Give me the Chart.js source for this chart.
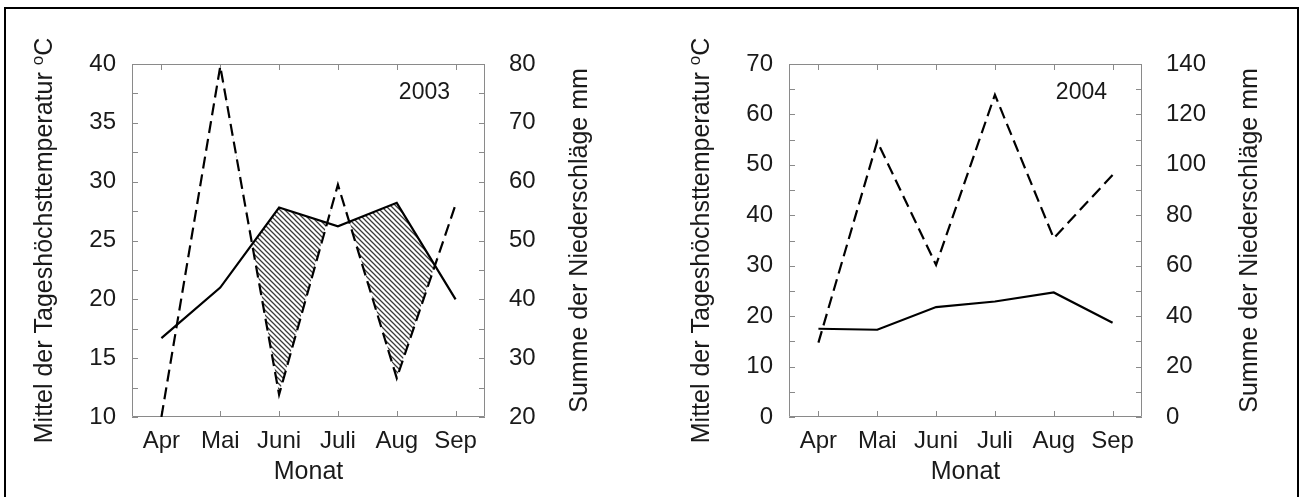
<!DOCTYPE html>
<html>
<head>
<meta charset="utf-8">
<script src="https://cdn.jsdelivr.net/npm/chart.js@4.4.1/dist/chart.umd.min.js"></script>
<style>
  html, body { margin: 0; padding: 0; background: #fff; overflow: hidden; }
  body { width: 1300px; height: 497px; position: relative; }
  #frame { position: absolute; left: 4px; top: 7px; width: 1291px; height: 600px; border: 2px solid #000; }
  .panel { position: absolute; top: 0; width: 650px; height: 497px; }
</style>
</head>
<body>
<div id="frame"></div>
<div class="panel" style="left:0"><canvas id="c2003" width="650" height="497"></canvas></div>
<div class="panel" style="left:650px"><canvas id="c2004" width="650" height="497"></canvas></div>
<script>
// --- Daten ---
const MONTHS = ['Apr', 'Mai', 'Juni', 'Juli', 'Aug', 'Sep'];

// Mittel der Tageshöchsttemperatur (°C)
const TEMP_2003 = [16.7, 21.0, 27.8, 26.2, 28.2, 20.0];
const TEMP_2004 = [17.5, 17.3, 21.8, 22.9, 24.7, 18.7];

// Summe der Niederschläge (mm)
const RAIN_2003 = [20, 79.6, 23.8, 59.5, 26.6, 56.1];
const RAIN_2004 = [29.5, 109.3, 60.3, 127.8, 70.9, 96.0];

// beschriftete Achsenwerte (Zwischenstriche liegen jeweils in der Mitte)
const TEMP_LABELS_2003 = [10, 15, 20, 25, 30, 35, 40];
const RAIN_LABELS_2003 = [20, 30, 40, 50, 60, 70, 80];
const TEMP_LABELS_2004 = [0, 10, 20, 30, 40, 50, 60, 70];
const RAIN_LABELS_2004 = [0, 20, 40, 60, 80, 100, 120, 140];

const TITLE_TEMP = 'Mittel der Tageshöchsttemperatur ';
const TITLE_RAIN = 'Summe der Niederschläge mm';

const FONT_FAMILY = "'Liberation Sans', Arial, Helvetica, sans-serif";
Chart.defaults.font.family = FONT_FAMILY;
Chart.defaults.color = '#1a1a1a';

const TICK_FONT = { size: 24 };

function makeHatch(ctx) {
    const s = 5;
    const c = document.createElement('canvas');
    c.width = s; c.height = s;
    const g = c.getContext('2d');
    g.fillStyle = '#fff';
    g.fillRect(0, 0, s, s);
    g.strokeStyle = '#3a3a3a';
    g.lineWidth = 1.25;
    g.beginPath();
    g.moveTo(-1, -1); g.lineTo(s + 1, s + 1);
    g.moveTo(-2, s - 2); g.lineTo(2, s + 2);
    g.moveTo(s - 2, -2); g.lineTo(s + 2, 2);
    g.stroke();
    return ctx.createPattern(c, 'repeat');
}

function drawVText(ctx, x, cy, parts) {
    // senkrechter Text, von unten nach oben gelesen; x = Grundlinie
    ctx.save();
    ctx.translate(x, cy);
    ctx.rotate(-Math.PI / 2);
    ctx.textBaseline = 'alphabetic';
    ctx.textAlign = 'left';
    ctx.fillStyle = '#1a1a1a';
    let total = 0;
    parts.forEach(p => { ctx.font = p.font; p.w = ctx.measureText(p.text).width; total += p.w; });
    let px = -total / 2;
    parts.forEach(p => { ctx.font = p.font; ctx.fillText(p.text, px, -(p.rise || 0)); px += p.w; });
    ctx.restore();
}

const decor = {
    id: 'decor',
    beforeDatasetsDraw(chart) {
        const { ctx, chartArea: a, scales } = chart;
        const t = 6;
        ctx.save();
        ctx.strokeStyle = '#8a8a8a';
        ctx.lineWidth = 1;
        ctx.beginPath();
        ctx.rect(a.left + 0.5, a.top + 0.5, a.right - a.left - 1, a.bottom - a.top - 1);
        scales.y.ticks.forEach((tk, i) => {
            const py = Math.round(scales.y.getPixelForTick(i)) + 0.5;
            ctx.moveTo(a.left, py); ctx.lineTo(a.left + t, py);
        });
        scales.y1.ticks.forEach((tk, i) => {
            const py = Math.round(scales.y1.getPixelForTick(i)) + 0.5;
            ctx.moveTo(a.right, py); ctx.lineTo(a.right - t, py);
        });
        scales.x.ticks.forEach((tk, i) => {
            const px = Math.round(scales.x.getPixelForTick(i)) + 0.5;
            ctx.moveTo(px, a.bottom); ctx.lineTo(px, a.bottom - t);
            ctx.moveTo(px, a.top); ctx.lineTo(px, a.top + t);
        });
        ctx.stroke();
        ctx.restore();
    },
    afterDraw(chart, args, opts) {
        const { ctx, chartArea: a, scales } = chart;
        const widest = s => {
            ctx.font = '24px ' + FONT_FAMILY;
            return Math.max(...s.ticks.map(tk => ctx.measureText(String(tk.label)).width));
        };
        const cy = (a.top + a.bottom) / 2;
        const xl = a.left - scales.y.options.ticks.padding - widest(scales.y) - 37;
        drawVText(ctx, xl, cy, [
            { text: TITLE_TEMP, font: '25px ' + FONT_FAMILY },
            { text: 'o', font: '17px ' + FONT_FAMILY, rise: 9 },
            { text: 'C', font: '25px ' + FONT_FAMILY }
        ]);
        const xr = a.right + scales.y1.options.ticks.padding + widest(scales.y1) + 51;
        drawVText(ctx, xr, cy, [{ text: TITLE_RAIN, font: '25px ' + FONT_FAMILY }]);

        ctx.save();
        ctx.font = '23px ' + FONT_FAMILY;
        ctx.fillStyle = '#1a1a1a';
        ctx.textAlign = 'right';
        ctx.textBaseline = 'alphabetic';
        ctx.fillText(opts.year, a.right - 35, a.top + 35);
        ctx.restore();
    }
};

function buildChart(id, year, temp, rain, tempLabels, rainLabels, plotLeft, plotRight, hatched) {
    const canvas = document.getElementById(id);
    const ctx = canvas.getContext('2d');
    const datasets = [
        { label: 'Temperatur', data: temp, yAxisID: 'y', borderColor: '#000', borderWidth: 2.2,
          pointRadius: 0, tension: 0, fill: false, order: 1 },
        { label: 'Niederschlag', data: rain, yAxisID: 'y1', borderColor: '#000', borderWidth: 2.2,
          borderDash: [12, 6], pointRadius: 0, tension: 0, fill: false, order: 1 }
    ];
    if (hatched) {
        // aride Zeit: Temperaturkurve über der Niederschlagskurve (ab Mai schraffiert)
        datasets.push({ label: 'arid', data: temp.map((v, i) => i === 0 ? null : v), yAxisID: 'y',
            borderColor: 'rgba(0,0,0,0)', borderWidth: 0, pointRadius: 0,
            fill: { target: 1, above: makeHatch(ctx), below: 'rgba(0,0,0,0)' }, order: 5 });
    }
    const tStep = (tempLabels[1] - tempLabels[0]) / 2;
    const rStep = (rainLabels[1] - rainLabels[0]) / 2;
    return new Chart(ctx, {
        type: 'line',
        data: { labels: MONTHS, datasets },
        options: {
            responsive: false,
            animation: false,
            layout: { padding: { top: 64, left: 0, right: 0, bottom: 0 } },
            plugins: { legend: { display: false }, tooltip: { enabled: false }, decor: { year } },
            scales: {
                x: {
                    offset: true,
                    grid: { display: false, drawTicks: false },
                    border: { display: false },
                    ticks: { font: TICK_FONT, padding: 10, maxRotation: 0, autoSkip: false },
                    title: { display: true, text: 'Monat', font: { size: 25 }, padding: { top: 0, bottom: 10 } },
                    afterFit: s => { s.height = 80; }
                },
                y: {
                    position: 'left',
                    min: tempLabels[0], max: tempLabels[tempLabels.length - 1],
                    grid: { display: false, drawTicks: false },
                    border: { display: false },
                    ticks: { stepSize: tStep, autoSkip: false, font: TICK_FONT, padding: 16,
                             callback: v => tempLabels.includes(v) ? v : '' },
                    afterFit: s => { s.width = plotLeft; }
                },
                y1: {
                    position: 'right',
                    min: rainLabels[0], max: rainLabels[rainLabels.length - 1],
                    grid: { display: false, drawTicks: false },
                    border: { display: false },
                    ticks: { stepSize: rStep, autoSkip: false, font: TICK_FONT, padding: 24,
                             callback: v => rainLabels.includes(v) ? v : '' },
                    afterFit: s => { s.width = 650 - plotRight; }
                }
            }
        },
        plugins: [decor]
    });
}

buildChart('c2003', '2003', TEMP_2003, RAIN_2003, TEMP_LABELS_2003, RAIN_LABELS_2003, 132, 485, true);
buildChart('c2004', '2004', TEMP_2004, RAIN_2004, TEMP_LABELS_2004, RAIN_LABELS_2004, 139, 492, false);
</script>
</body>
</html>
